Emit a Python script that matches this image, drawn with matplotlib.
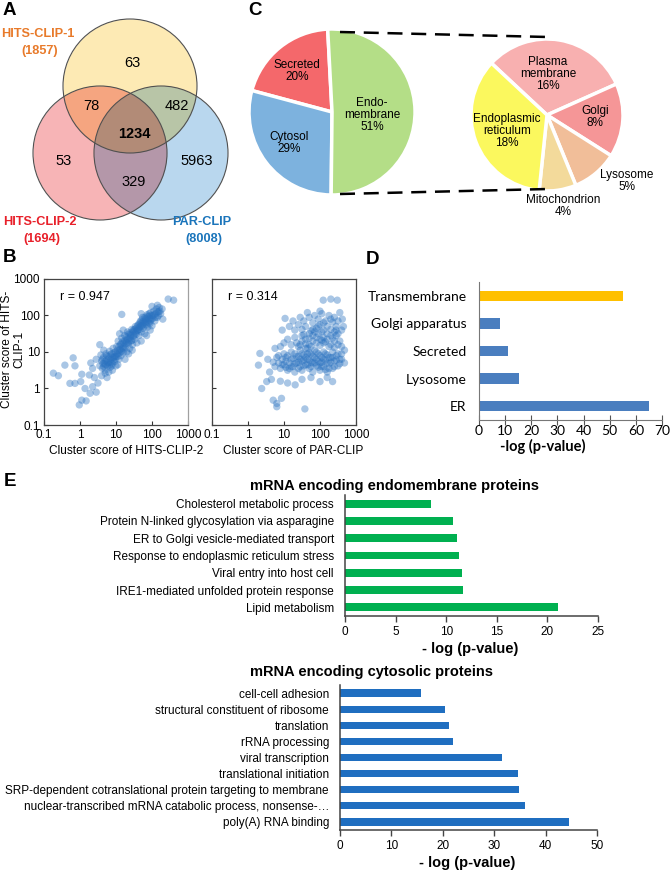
import numpy as np
import matplotlib
matplotlib.use("Agg")
import matplotlib.pyplot as plt
from matplotlib.patches import Circle
from matplotlib.ticker import FixedLocator, NullLocator

plt.rcParams["font.family"] = ["Liberation Sans", "DejaVu Sans"]

# ---------------- data ----------------
venn_sets = ["HITS-CLIP-1", "HITS-CLIP-2", "PAR-CLIP"]
venn_totals = [1857, 1694, 8008]
venn_regions = ["1", "1&2", "1&3", "1&2&3", "2", "3", "2&3"]
venn_counts = [63, 78, 482, 1234, 53, 5963, 329]

loc_labels = ["Secreted", "Cytosol", "Endo-\nmembrane"]
loc_pct = [20, 29, 51]
endo_labels = ["Plasma\nmembrane", "Golgi", "Lysosome", "Mitochondrion", "Endoplasmic\nreticulum"]
endo_pct = [16, 8, 5, 4, 18]

# cluster scores (log10)
b1_points = [
    (0.55, 0.62), (0.6, 0.75), (0.62, 0.55), (0.65, 0.85), (0.68, 0.68), (0.7, 0.5), (0.72, 0.95),
    (0.74, 0.78), (0.76, 0.62), (0.78, 0.88), (0.8, 0.72), (0.82, 1.02), (0.84, 0.58), (0.86, 0.8),
    (0.88, 0.95), (0.9, 0.68), (0.92, 1.1), (0.94, 0.85), (0.96, 0.74), (0.98, 1.0), (1.0, 0.62),
    (1.0, 0.88), (0.58, 0.92), (0.66, 1.05), (0.7, 0.42), (0.8, 0.45), (0.6, 0.35), (0.75, 0.3),
    (0.9, 0.5), (0.64, 0.68),
    (1.02, 1.15), (1.05, 0.95), (1.06, 1.3), (1.08, 0.8), (1.1, 1.05), (1.12, 1.2), (1.14, 0.9),
    (1.16, 1.38), (1.18, 1.1), (1.2, 0.98), (1.22, 1.25), (1.24, 1.45), (1.26, 1.12), (1.28, 1.3),
    (1.3, 1.0), (1.32, 1.55), (1.34, 1.22), (1.36, 1.38), (1.38, 1.1), (1.4, 1.48), (1.42, 1.3),
    (1.44, 1.62), (1.46, 1.2), (1.48, 1.42), (1.5, 1.55), (1.52, 1.35), (1.54, 1.7), (1.56, 1.48),
    (1.58, 1.25), (1.6, 1.6), (1.1, 1.5), (1.25, 0.8), (1.35, 0.95), (1.45, 1.05), (1.2, 1.6),
    (1.05, 0.65),
    (1.62, 1.75), (1.64, 1.45), (1.66, 1.62), (1.68, 1.85), (1.7, 1.55), (1.72, 1.72), (1.74, 1.95),
    (1.76, 1.65), (1.78, 1.82), (1.8, 1.5), (1.82, 1.9), (1.84, 1.75), (1.86, 2.02), (1.88, 1.68),
    (1.9, 1.88), (1.92, 1.98), (1.94, 1.78), (1.96, 2.08), (1.98, 1.9), (2.0, 1.72), (2.02, 2.0),
    (2.05, 2.12), (2.08, 1.85), (2.1, 2.05), (2.12, 2.18), (2.15, 1.95), (2.18, 2.1), (2.2, 2.22),
    (2.24, 2.05), (2.28, 2.18), (1.7, 2.05), (1.85, 1.45), (1.95, 1.6), (2.0, 2.25), (2.15, 2.28),
    (0.62, 0.8), (0.66, 0.6), (0.7, 0.75), (0.72, 0.65), (0.74, 0.9), (0.78, 0.7), (0.8, 0.82),
    (0.82, 0.65), (0.84, 0.92), (0.86, 0.72), (0.88, 0.62), (0.9, 0.85), (0.92, 0.78), (0.94, 0.98),
    (0.96, 0.88), (0.98, 0.8), (1.02, 0.95), (1.04, 1.05), (1.06, 0.88), (1.08, 1.15), (1.1, 0.98),
    (1.12, 1.08), (1.14, 1.22), (1.16, 1.02), (1.18, 1.28), (1.2, 1.15), (1.22, 1.08), (1.24, 1.32),
    (1.26, 1.22), (1.28, 1.42), (1.3, 1.25), (1.32, 1.35), (1.34, 1.48), (1.36, 1.28), (1.38, 1.52),
    (1.4, 1.38), (1.42, 1.45), (1.44, 1.32), (1.46, 1.55), (1.48, 1.6), (1.5, 1.45), (1.52, 1.62),
    (1.54, 1.52), (1.56, 1.65), (1.58, 1.58), (1.6, 1.72), (1.62, 1.6), (1.64, 1.68), (1.66, 1.8),
    (1.68, 1.7), (1.7, 1.78), (1.72, 1.88), (1.74, 1.75), (1.76, 1.85), (1.78, 1.7), (1.8, 1.95),
    (1.82, 1.8), (1.84, 1.92), (1.86, 1.85), (1.88, 1.98), (1.9, 1.8), (1.92, 2.05), (1.94, 1.92),
    (1.96, 1.85), (1.98, 2.0), (2.02, 1.92), (2.06, 2.02), (2.1, 1.95), (2.14, 2.1), (2.18, 2.0),
    (2.22, 2.12),
    (-0.74, 0.42), (-0.6, 0.35), (-0.42, 0.64), (-0.19, 0.84), (-0.14, 0.62), (-0.28, 0.14),
    (-0.14, 0.14), (0.05, 0.39), (0.02, 0.19), (0.14, 0.0), (0.05, -0.32), (0.17, -0.34),
    (-0.02, -0.45), (0.28, -0.13), (0.26, 0.37), (0.35, 0.55), (0.4, 0.3), (0.45, 0.8), (0.3, 0.7),
    (0.5, 0.15), (0.55, 1.2), (1.16, 2.03), (2.45, 2.45), (2.6, 2.42), (1.7, 1.3), (2.3, 1.9),
    (0.35, 0.05), (0.45, -0.1),
]
b2_points = [
    (0.7, 0.72), (0.75, 0.6), (0.8, 0.85), (0.85, 0.7), (0.9, 0.55), (0.95, 0.8), (1.0, 0.95),
    (1.0, 0.65), (1.05, 0.75), (1.1, 0.5), (1.1, 0.9), (1.15, 0.7), (1.2, 1.0), (1.2, 0.6),
    (1.25, 0.82), (1.3, 0.45), (1.3, 0.95), (1.35, 0.7), (1.4, 0.88), (1.4, 0.55), (1.45, 1.05),
    (1.5, 0.75), (1.5, 0.5), (1.55, 0.92), (1.6, 0.65), (1.6, 1.1), (1.65, 0.8), (1.7, 0.55),
    (1.7, 0.98), (1.75, 0.72), (1.8, 0.88), (1.8, 0.45), (1.85, 1.05), (1.9, 0.62), (1.9, 0.8),
    (1.95, 0.95), (2.0, 0.7), (2.0, 0.5), (2.05, 0.85), (2.1, 1.0), (2.1, 0.6), (2.15, 0.78),
    (2.2, 0.92), (2.2, 0.45), (2.25, 0.68), (2.3, 0.85), (2.35, 1.0), (2.35, 0.55), (2.4, 0.75),
    (2.45, 0.9), (2.5, 0.62), (2.55, 0.8), (2.6, 0.95), (1.55, 0.62), (1.75, 0.6), (1.95, 0.58),
    (2.15, 0.52), (1.45, 0.8), (1.65, 0.95), (1.85, 0.7), (2.05, 0.72), (2.25, 0.85), (1.25, 0.6),
    (1.05, 0.58),
    (0.85, 0.9), (0.95, 0.65), (1.05, 0.85), (1.15, 0.55), (1.2, 0.8), (1.3, 0.68), (1.35, 0.88),
    (1.4, 0.72), (1.45, 0.6), (1.5, 0.95), (1.55, 0.78), (1.6, 0.85), (1.65, 0.65), (1.7, 0.78),
    (1.75, 0.95), (1.8, 0.7), (1.85, 0.85), (1.9, 1.0), (1.95, 0.75), (2.0, 0.9), (2.05, 0.6),
    (2.1, 0.8), (2.15, 0.95), (2.2, 0.7), (2.25, 0.55), (2.3, 0.72), (2.35, 0.85), (2.4, 0.6),
    (2.45, 0.78), (2.5, 0.95), (2.55, 0.68), (2.6, 0.8),
    (0.9, 1.15), (1.0, 1.25), (1.1, 1.35), (1.2, 1.2), (1.3, 1.4), (1.4, 1.15), (1.5, 1.3),
    (1.55, 1.48), (1.6, 1.22), (1.7, 1.38), (1.75, 1.15), (1.8, 1.45), (1.9, 1.25), (1.95, 1.5),
    (2.0, 1.18), (2.1, 1.4), (2.15, 1.28), (2.2, 1.5), (2.3, 1.2), (2.35, 1.38), (2.4, 1.12),
    (2.45, 1.45), (2.55, 1.3), (2.6, 1.15), (1.35, 1.25), (1.65, 1.1), (2.05, 1.32), (2.5, 1.5),
    (1.6, 1.35), (1.7, 1.2), (1.8, 1.3), (1.85, 1.55), (1.9, 1.4), (2.0, 1.35), (2.05, 1.55),
    (2.1, 1.25), (2.2, 1.35), (2.25, 1.15), (2.3, 1.45), (2.4, 1.3), (2.45, 1.6), (2.5, 1.2),
    (1.5, 1.45), (1.45, 1.2), (1.7, 1.5),
    (1.3, 1.6), (1.4, 1.75), (1.5, 1.62), (1.55, 1.85), (1.6, 1.7), (1.7, 1.95), (1.75, 1.58),
    (1.8, 1.8), (1.85, 2.0), (1.9, 1.65), (1.95, 1.9), (2.0, 1.75), (2.05, 2.05), (2.1, 1.6),
    (2.15, 1.85), (2.2, 1.7), (2.25, 2.0), (2.3, 1.62), (2.35, 1.82), (2.4, 1.95), (2.45, 1.7),
    (2.5, 1.85), (2.55, 2.08), (2.6, 1.6), (2.62, 1.9), (1.45, 1.95), (1.25, 1.85), (1.65, 2.08),
    (2.0, 2.12), (1.95, 1.7), (2.1, 1.8), (2.3, 1.9), (1.8, 1.62), (2.4, 1.55),
    (0.29, 0.64), (0.33, 0.96), (0.52, 0.19), (0.38, 0.0), (0.7, -0.32), (0.8, -0.41), (0.8, -0.5),
    (1.58, -0.56), (0.93, -0.27), (1.03, 1.92), (2.09, 2.42), (2.3, 2.45), (2.48, 2.42), (1.31, 0.1),
    (2.0, 0.19), (2.35, 0.19), (0.6, 0.45), (0.55, 0.8), (0.65, 0.25), (0.9, 0.2), (1.1, 0.15),
    (1.5, 0.25), (1.75, 0.3), (2.2, 0.3), (0.95, 1.6), (1.15, 1.7), (0.75, 1.1), (2.68, 1.05),
    (2.68, 0.7), (2.65, 1.7),
]
b_r = [0.947, 0.314]
b_xlabels = ["Cluster score of HITS-CLIP-2", "Cluster score of PAR-CLIP"]

d_terms = ["Transmembrane", "Golgi apparatus", "Secreted", "Lysosome", "ER"]
d_vals = [55, 8.2, 11, 15.2, 65]

e1_terms = ["Cholesterol metabolic process", "Protein N-linked glycosylation via asparagine",
            "ER to Golgi vesicle-mediated transport", "Response to endoplasmic reticulum stress",
            "Viral entry into host cell", "IRE1-mediated unfolded protein response",
            "Lipid metabolism"]
e1_vals = [8.5, 10.7, 11.1, 11.3, 11.6, 11.65, 21.0]

e2_terms = ["cell-cell adhesion", "structural constituent of ribosome", "translation",
            "rRNA processing", "viral transcription", "translational initiation",
            "SRP-dependent cotranslational protein targeting to membrane",
            "nuclear-transcribed mRNA catabolic process, nonsense-\u2026",
            "poly(A) RNA binding"]
e2_vals = [15.8, 20.5, 21.3, 21.9, 31.6, 34.6, 34.9, 35.9, 44.6]

# ---------------- layout helpers (pixels) ----------------
W, H = 670, 872
fig = plt.figure(figsize=(W / 100, H / 100), dpi=100)


def box(l, t, r, b):
    return [l / W, 1 - b / H, (r - l) / W, (b - t) / H]


def Y(y):
    return H - y


ov = fig.add_axes([0, 0, 1, 1])
ov.axis("off")

# panel letters
for letter, (x, y) in zip("ABCDE", [(3, 11), (3, 257), (248, 11), (366, 259), (4, 481)]):
    ov.text(x, Y(y), letter, fontsize=13.5, fontweight="bold", va="center", ha="left")

# ---------------- A: Venn ----------------
centers = [(130, 86), (100, 153), (161, 153)]
rad = 67
venn_fill = [(253, 234, 180), (247, 180, 182), (186, 215, 238)]
gx = np.arange(25, 240, 0.25)
gy = np.arange(10, 230, 0.25)
GX, GY = np.meshgrid(gx, gy)
img = np.ones(GX.shape + (4,))
img[..., 3] = 0
for (cx, cy), col in zip(centers, venn_fill):
    inside = (GX - cx) ** 2 + (GY - cy) ** 2 <= rad ** 2
    img[inside, :3] *= np.array(col) / 255
    img[inside, 3] = 1
ov.imshow(img, extent=(gx[0], gx[-1], Y(gy[-1]), Y(gy[0])), origin="upper",
          interpolation="bilinear", zorder=1)
for cx, cy in centers:
    ov.add_patch(Circle((cx, Y(cy)), rad, fill=False, ec="#505050", lw=0.8, zorder=2))

region_pos = {"1": (132, 63), "1&2": (91, 106), "1&3": (177, 106), "1&2&3": (134, 134),
              "2": (64, 161), "3": (197, 161), "2&3": (134, 182)}
for reg, n in zip(venn_regions, venn_counts):
    x, y = region_pos[reg]
    ov.text(x, Y(y), str(n), fontsize=10.5, ha="center", va="center", zorder=3,
            fontweight="bold" if reg == "1&2&3" else "normal")

set_pos = [(38, 34), (40, 222), (202, 222)]
set_cols = ["#E87A2A", "#E8202A", "#1B75BB"]
for name, tot, (x, y), c in zip(venn_sets, venn_totals, set_pos, set_cols):
    ov.text(x, Y(y), name, color=c, fontsize=9.2, fontweight="bold", ha="center", va="center")
    ov.text(x + 2, Y(y + 17), f"({tot})", color=c, fontsize=9.2, fontweight="bold",
            ha="center", va="center")

# ---------------- C: pies ----------------
ov.pie(loc_pct, colors=["#F4686B", "#7DB2DE", "#B4DE87"], startangle=93, counterclock=True,
       center=(332, Y(112)), radius=83, explode=[0, 0, 0.035],
       wedgeprops=dict(edgecolor="white", linewidth=2.5))
ov.pie(endo_pct, colors=["#F8B0B0", "#F59697", "#F1BE99", "#F3DA9B", "#FBF85E"],
       startangle=137, counterclock=False, center=(547, Y(115)), radius=76,
       wedgeprops=dict(edgecolor="white", linewidth=2.5))

loc_txt_pos = [(297, 71), (289, 143), (372, 115)]
for lab, p, (x, y) in zip(loc_labels, loc_pct, loc_txt_pos):
    ov.text(x, Y(y), f"{lab}\n{p}%", fontsize=8.5, ha="center", va="center", linespacing=1.05)
endo_txt_pos = [(548, 74), (595, 117), (627, 181), (563, 206), (507, 131)]
for lab, p, (x, y) in zip(endo_labels, endo_pct, endo_txt_pos):
    ov.text(x, Y(y), f"{lab}\n{p}%", fontsize=8.5, ha="center", va="center", linespacing=1.05)

ov.plot([340, 548], [Y(32), Y(37)], color="black", lw=1.8, dashes=(6, 3.5))
ov.plot([340, 548], [Y(194), Y(189)], color="black", lw=1.8, dashes=(6, 3.5))

ov.set_xlim(0, W)
ov.set_ylim(0, H)
ov.set_aspect("auto")
ov.axis("off")

# ---------------- B: scatter ----------------
dec = [0.1, 1, 10, 100, 1000]
dec_lab = ["0.1", "1", "10", "100", "1000"]
b_boxes = [box(44, 279, 188, 425), box(212, 279, 356, 425)]
b_xlab_pos = [126, 293]
for i, (pts, r, bb) in enumerate(zip([b1_points, b2_points], b_r, b_boxes)):
    ax = fig.add_axes(bb)
    pts = np.array(pts)
    ax.scatter(10 ** pts[:, 0], 10 ** pts[:, 1], s=28, color="#2A72C0", alpha=0.4,
               edgecolors="none")
    ax.set_xscale("log")
    ax.set_yscale("log")
    ax.set_xlim(0.1, 1000)
    ax.set_ylim(0.1, 1000)
    for axis in (ax.xaxis, ax.yaxis):
        axis.set_major_locator(FixedLocator(dec))
        axis.set_minor_locator(NullLocator())
    ax.set_xticklabels(dec_lab)
    ax.set_yticklabels(dec_lab if i == 0 else [""] * 5)
    ax.tick_params(direction="in", length=3, width=0.8, labelsize=8.5, pad=3, colors="#333333")
    ax.tick_params(axis="x", labelcolor="black")
    ax.tick_params(axis="y", labelcolor="black")
    for s in ax.spines.values():
        s.set_color("#444444")
        s.set_linewidth(0.9)
    if i == 0:
        ax.spines["right"].set_color("#A0A0A0")
        ax.spines["right"].set_linestyle((0, (3, 1)))
    ax.text(0.11, 0.877, f"r = {r}", transform=ax.transAxes, fontsize=9, va="center")
    fig.text(b_xlab_pos[i] / W, 1 - 451 / H, b_xlabels[i], fontsize=8.6, ha="center",
             va="center")

fig.text(13 / W, 1 - 349 / H, "Cluster score of HITS-\nCLIP-1", rotation=90, fontsize=8.6,
         ha="center", va="center", linespacing=1.0)

# ---------------- D: bar ----------------
axd = fig.add_axes(box(479, 282, 662, 420))
axd.barh(range(len(d_terms)), d_vals, height=0.38,
         color=["#FFC000"] + ["#4A7EBF"] * (len(d_terms) - 1))
axd.set_ylim(len(d_terms) - 0.5, -0.5)
axd.set_xlim(0, 70)
axd.set_xticks(range(0, 71, 10))
axd.set_yticks(range(len(d_terms)))
axd.set_yticklabels(d_terms, fontfamily="Lato", fontsize=10)
axd.set_xticklabels([str(v) for v in range(0, 71, 10)], fontfamily="Lato", fontsize=10)
axd.tick_params(axis="y", length=0, pad=9)
axd.tick_params(axis="x", direction="inout", length=7, width=0.8, pad=0, colors="#555555")
axd.tick_params(axis="x", labelcolor="black")
for s in ("top", "right"):
    axd.spines[s].set_visible(False)
for s in ("left", "bottom"):
    axd.spines[s].set_color("#777777")
fig.text(543 / W, 1 - 446 / H, "-log (p-value)", fontfamily="Lato", fontweight="bold",
         fontsize=10.5, ha="center", va="center")

# ---------------- E: GO bars ----------------
e_specs = [
    (e1_terms, e1_vals, "#00B050", box(345, 495, 598, 616), 25, 5,
     "mRNA encoding endomembrane proteins", (395, 486), (470, 649)),
    (e2_terms, e2_vals, "#1F6EC0", box(340, 685, 597, 830), 50, 10,
     "mRNA encoding cytosolic proteins", (371, 672), (467, 863)),
]
for terms, vals, col, bb, xmax, step, title, tpos, xlpos in e_specs:
    ax = fig.add_axes(bb)
    ax.barh(range(len(terms)), vals, height=0.45, color=col)
    ax.set_ylim(len(terms) - 0.5, -0.5)
    ax.set_xlim(0, xmax)
    ax.set_xticks(range(0, xmax + 1, step))
    ax.set_yticks(range(len(terms)))
    ax.set_yticklabels(terms, fontsize=8.5)
    ax.tick_params(axis="y", length=0, pad=8)
    ax.tick_params(axis="x", length=4, width=1, labelsize=8.5, colors="#444444")
    ax.tick_params(axis="x", labelcolor="black")
    for s in ("top", "right"):
        ax.spines[s].set_visible(False)
    for s in ("left", "bottom"):
        ax.spines[s].set_color("#444444")
        ax.spines[s].set_linewidth(1.1)
    fig.text(tpos[0] / W, 1 - tpos[1] / H, title, fontsize=10.5, fontweight="bold",
             ha="center", va="center")
    fig.text(xlpos[0] / W, 1 - xlpos[1] / H, "- log (p-value)", fontsize=10.5,
             fontweight="bold", ha="center", va="center")

fig.savefig("out.png", dpi=100)
